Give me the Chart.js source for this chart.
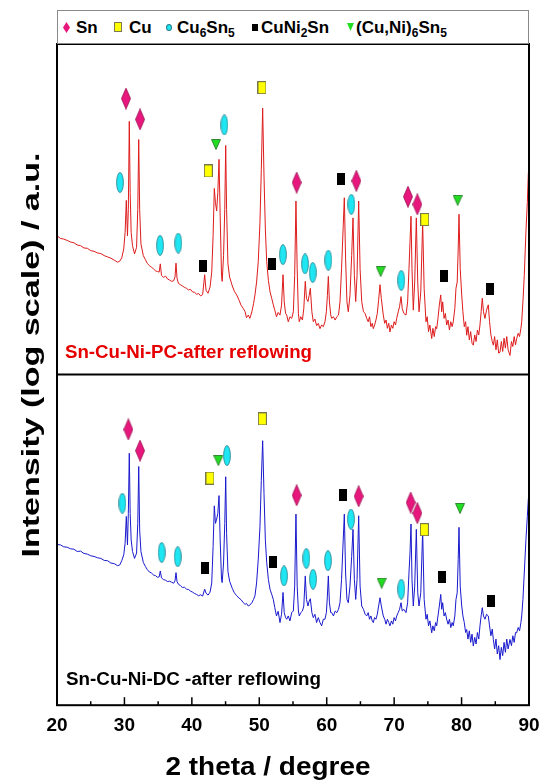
<!DOCTYPE html>
<html><head><meta charset="utf-8">
<script src="https://cdn.jsdelivr.net/npm/chart.js@4.4.1/dist/chart.umd.min.js"></script>
<style>
html,body{margin:0;padding:0;background:#fff;}
#wrap{position:relative;width:540px;height:780px;overflow:hidden;}
#c{position:absolute;left:0;top:0;}
#legend{position:absolute;left:57px;top:10px;width:472px;height:34px;border:1px solid #8a8a8a;box-sizing:border-box;font:bold 17px "Liberation Sans",Arial,sans-serif;color:#000;background:#fff;}
.it{position:absolute;top:0;line-height:33px;white-space:nowrap;}
.it sub{font-size:12px;vertical-align:-4px;line-height:0;}
.mk{position:absolute;box-sizing:border-box;}
</style></head>
<body>
<div id="wrap">
<canvas id="c" width="540" height="780"></canvas>
<div id="legend">
  <div class="mk" style="left:5px;top:11px;width:7px;height:11px;background:#e8177d;clip-path:polygon(50% 0,100% 50%,50% 100%,0 50%);"></div>
  <div class="it" style="left:18px;">Sn</div>
  <div class="mk" style="left:56px;top:11px;width:8px;height:10px;background:#ffff00;border:1px solid #7a7a50;"></div>
  <div class="it" style="left:71px;">Cu</div>
  <div class="mk" style="left:108px;top:13px;width:6px;height:7px;background:#1ee6f2;border:1px solid #2b7f8c;border-radius:50%;"></div>
  <div class="it" style="left:119px;">Cu<sub>6</sub>Sn<sub>5</sub></div>
  <div class="mk" style="left:194px;top:13px;width:6px;height:7px;background:#000;"></div>
  <div class="it" style="left:203px;">CuNi<sub>2</sub>Sn</div>
  <div class="mk" style="left:289px;top:12px;width:7px;height:8px;background:#22dd22;clip-path:polygon(0 0,100% 0,50% 100%);"></div>
  <div class="it" style="left:298px;">(Cu,Ni)<sub>6</sub>Sn<sub>5</sub></div>
</div>
</div>
<script>
// ---- DATA ----
const xTicks = [20, 30, 40, 50, 60, 70, 80, 90];
const twoTheta = [
20.0,20.5,21.0,21.5,22.0,22.5,23.0,23.5,24.0,24.5,25.0,25.5,26.0,26.5,27.0,27.5,28.0,28.5,29.0,29.3,29.6,29.9,
30.1,30.28,30.45,30.58,30.72,30.85,31.0,31.2,31.5,31.8,31.98,32.12,32.26,32.45,32.8,33.1,33.4,33.7,34.0,34.3,34.6,34.9,
35.15,35.32,35.5,35.8,36.1,36.4,36.7,37.0,37.3,37.5,37.65,37.8,38.0,38.3,38.6,38.9,39.2,39.5,39.8,40.1,40.4,40.7,41.0,41.3,41.6,
41.9,42.1,42.4,42.7,42.95,43.15,43.33,43.5,43.68,43.85,44.03,44.2,44.4,44.5,44.7,44.88,45.02,45.15,45.35,45.6,46.0,46.3,46.65,
47.0,47.3,47.63,47.9,48.1,48.37,48.6,48.9,49.15,49.36,49.6,49.85,50.1,50.3,50.5,50.7,50.9,51.1,51.35,51.6,51.85,52.08,52.3,52.55,
52.8,53.07,53.3,53.52,53.7,53.9,54.07,54.3,54.55,54.81,55.05,55.25,55.44,55.62,55.8,55.93,56.15,56.4,56.6,56.82,57.0,57.22,57.4,
57.57,57.8,58.01,58.25,58.5,58.75,59.0,59.25,59.5,59.74,59.95,60.1,60.24,60.4,60.6,60.74,61.0,61.25,61.5,61.75,61.97,62.2,62.45,
62.61,62.8,63.0,63.2,63.45,63.7,63.9,64.1,64.3,64.5,64.74,64.95,65.19,65.45,65.7,65.93,66.15,66.35,66.55,66.75,66.91,67.1,67.3,
67.5,67.7,67.9,68.1,68.39,68.6,68.8,69.0,69.2,69.38,69.6,69.8,70.0,70.2,70.38,70.6,70.8,71.02,71.2,71.45,71.76,72.0,72.2,72.35,
72.5,72.65,72.84,73.05,73.29,73.5,73.69,73.95,74.23,74.45,74.72,74.9,75.1,75.3,75.57,75.75,75.95,76.15,76.31,76.5,76.7,76.91,
77.05,77.2,77.4,77.6,77.79,78.0,78.2,78.4,78.6,78.77,79.0,79.17,79.35,79.5,79.62,79.8,80.02,80.2,80.4,80.6,80.76,80.95,81.15,
81.35,81.55,81.74,81.95,82.15,82.35,82.55,82.73,82.9,83.07,83.25,83.47,83.7,83.96,84.15,84.35,84.55,84.71,84.9,85.1,85.3,85.5,
85.7,85.9,86.1,86.3,86.5,86.7,86.9,87.18,87.4,87.6,87.8,88.0,88.17,88.4,88.6,88.8,88.92,89.1,89.3,89.55,89.75,89.9,90.0
];
// Sn-Cu-Ni-PC (top, red) — relative log intensity, 0..100 of panel height
const pcIntensity = [
42.0,41.2,41.0,40.6,40.1,39.9,39.2,39.0,38.3,38.2,37.5,37.3,36.8,36.6,36.0,35.6,35.2,34.6,34.0,34.3,35.3,38.0,
43.0,52.7,42.0,50.0,76.6,55.0,43.0,39.0,36.5,38.5,50.0,71.1,50.0,39.5,36.0,34.8,33.6,33.0,32.5,32.0,31.4,31.2,
31.0,33.5,30.0,29.4,29.8,28.9,28.6,28.2,28.4,29.5,33.7,29.2,27.6,27.2,26.8,26.4,26.1,25.6,25.8,25.0,24.9,24.3,24.5,23.8,24.2,
30.2,25.5,24.6,26.5,31.0,42.0,56.3,52.0,49.5,55.0,65.1,48.0,30.0,28.2,36.0,50.0,69.3,50.0,33.5,29.5,26.8,25.2,24.1,
22.5,21.0,20.0,19.0,17.2,18.0,17.0,19.0,21.5,24.1,28.0,34.2,46.0,62.0,80.6,60.0,44.0,34.2,28.5,25.0,23.0,21.1,19.5,17.5,
18.8,18.0,21.0,30.2,22.0,18.5,18.0,16.0,17.5,17.0,19.0,30.0,52.5,32.0,18.5,16.0,17.5,16.5,20.0,28.2,23.0,22.1,24.0,
26.1,19.0,16.0,16.8,14.8,15.5,13.9,15.0,14.5,16.0,19.0,24.0,29.7,22.0,18.0,17.0,17.5,16.5,17.5,18.0,22.0,32.0,45.0,
53.5,35.0,22.0,19.0,24.0,36.0,47.4,30.0,22.1,30.0,52.5,32.0,22.1,19.0,18.5,17.0,16.0,17.5,14.5,15.5,13.9,15.0,16.5,
18.5,22.5,27.2,23.0,18.0,15.5,16.5,14.0,15.5,12.9,15.0,14.0,16.0,15.0,17.0,19.0,20.5,23.6,20.0,18.5,18.0,22.0,32.0,40.0,
47.9,32.0,19.5,28.0,47.4,28.0,19.0,25.0,45.9,26.0,16.0,17.5,13.0,15.0,10.9,14.0,11.5,14.5,13.9,17.0,21.0,24.1,
19.0,22.0,17.0,18.5,15.0,16.5,13.5,16.0,14.5,16.0,20.0,26.1,28.0,38.0,48.5,32.0,24.1,19.0,14.5,16.0,11.9,14.5,10.5,
13.0,9.5,8.9,12.0,10.0,13.5,12.0,15.0,19.0,23.1,19.0,17.0,19.5,21.1,16.0,12.0,10.0,8.9,11.5,7.5,10.5,6.5,
6.8,10.0,7.0,11.0,8.0,11.5,7.5,5.8,10.0,8.5,11.5,9.0,10.9,12.5,11.5,14.0,16.0,22.0,30.0,43.4,52.0,60.6,64.0
];
// Sn-Cu-Ni-DC (bottom, blue)
const dcIntensity = [
48.6,48.5,47.9,47.8,47.3,47.2,46.5,46.6,45.9,45.7,45.2,45.0,44.6,44.4,43.8,43.7,43.0,42.8,42.2,42.4,43.7,45.5,
49.0,57.1,48.5,58.0,76.2,58.0,50.0,46.5,44.4,46.0,55.0,72.2,53.0,46.5,43.2,42.0,41.0,40.3,40.0,39.4,39.2,38.7,
38.8,40.6,38.5,38.0,37.8,37.4,37.5,37.2,36.9,37.6,40.1,37.4,36.6,36.2,35.6,35.7,35.1,35.0,34.5,34.2,33.8,33.5,33.1,33.4,33.0,
35.1,33.9,33.3,34.2,37.0,48.0,60.3,55.0,56.3,58.0,63.4,50.0,38.0,37.1,43.0,55.0,69.1,52.0,40.5,37.5,35.3,34.0,33.1,
32.4,31.9,31.0,30.5,30.8,30.0,30.3,31.0,32.0,33.1,37.0,44.2,54.0,68.0,80.0,64.0,50.0,43.2,38.0,35.0,33.5,32.0,29.5,27.0,
28.4,25.0,27.5,34.1,28.0,26.5,26.0,27.0,25.5,28.0,28.5,36.0,57.8,36.0,28.5,27.0,28.0,28.5,30.0,39.1,32.0,30.0,31.5,
32.2,28.0,26.5,27.5,25.0,26.5,25.0,24.0,26.0,26.0,28.0,33.0,39.1,31.0,28.0,28.0,27.0,28.5,28.0,29.0,31.0,38.0,50.0,
57.8,40.0,32.0,31.0,36.0,45.0,53.2,38.0,32.0,38.0,57.3,36.0,30.0,29.0,27.5,27.0,28.0,26.0,27.0,25.5,25.0,26.5,26.0,
27.5,30.0,32.5,30.0,27.0,26.0,24.5,26.0,25.0,24.0,25.5,24.5,26.5,25.5,27.0,28.0,29.0,31.0,28.5,29.0,28.0,31.0,40.0,46.0,
54.8,38.0,30.0,36.0,53.2,34.0,30.0,34.0,52.8,32.0,26.0,27.5,24.0,25.5,21.9,24.0,22.5,25.0,24.0,27.0,30.0,33.5,
29.0,31.0,27.0,28.0,26.0,24.5,26.0,23.5,25.0,24.0,27.0,32.0,34.0,44.0,53.8,36.0,30.0,27.0,25.0,22.0,22.9,20.0,22.5,
19.0,21.5,17.9,20.5,18.5,22.0,20.0,24.0,27.0,29.5,27.0,26.0,27.5,27.0,24.0,21.0,23.0,19.9,17.0,20.0,15.5,18.0,
13.8,17.5,15.0,19.0,16.0,20.0,17.0,19.9,18.0,21.0,19.0,22.0,21.9,23.5,22.5,25.0,27.0,32.0,40.0,50.2,57.0,62.3,64.0
];
// phase markers [2theta, level] — top panel (PC)
const snPC     = [[30.23,83.5],[32.31,77.2],[55.54,58.1],[64.39,58.6],[72.05,53.8],[73.44,51.5]];
const cuPC     = [[42.44,61.6],[50.40,86.8],[74.53,46.9]];
const cu6sn5PC = [[29.34,58.1],[35.28,39.1],[37.99,39.8],[44.82,75.5],[53.50,36.3],[56.78,33.5],[57.92,30.9],[60.24,34.6],[63.65,51.5],[71.06,28.5]];
const cuni2snPC= [[41.60,32.9],[51.84,33.4],[62.12,59.3],[77.35,29.7],[84.21,25.8]];
const cuni6sn5PC=[[43.58,69.6],[68.00,31.2],[79.42,52.7]];
// bottom panel (DC)
const snDC     = [[30.58,83.4],[32.31,77.0],[55.54,63.5],[64.74,63.2],[72.45,61.3],[73.44,58.1]];
const cuDC     = [[42.69,68.7],[50.45,86.6],[74.48,53.1]];
const cu6sn5DC = [[29.69,61.1],[35.52,46.2],[37.90,44.9],[45.21,75.5],[53.67,39.1],[56.98,44.4],[57.97,38.1],[60.19,43.7],[63.60,56.3],[71.06,35.1]];
const cuni2snDC= [[41.95,41.6],[52.08,43.2],[62.46,63.5],[77.14,38.9],[84.37,31.5]];
const cuni6sn5DC=[[43.93,74.0],[68.15,36.9],[79.77,59.5]];

const panelLabels = ['Sn-Cu-Ni-PC-after reflowing', 'Sn-Cu-Ni-DC -after reflowing'];
const xTitle = '2 theta / degree';
const yTitle = 'Intensity (log scale) / a.u.';

// ---- marker glyphs ----
function glyph(kind){
  const c = document.createElement('canvas');
  const g = c.getContext('2d');
  if (kind === 'diamond'){ c.width=10; c.height=22;
    g.beginPath(); g.moveTo(5,0.5); g.lineTo(9.5,11); g.lineTo(5,21.5); g.lineTo(0.5,11); g.closePath();
    g.fillStyle='#e8177d'; g.fill(); g.strokeStyle='#9a1050'; g.lineWidth=0.8; g.stroke();
  } else if (kind === 'rectY'){ c.width=9; c.height=13;
    g.fillStyle='#ffff00'; g.fillRect(0.5,0.5,8,12); g.strokeStyle='#77774a'; g.lineWidth=1; g.strokeRect(0.5,0.5,8,12);
  } else if (kind === 'ellipse'){ c.width=8; c.height=21;
    g.beginPath(); g.ellipse(4,10.5,3.4,10,0,0,Math.PI*2);
    g.fillStyle='#1ee6f2'; g.fill(); g.strokeStyle='#2b7f8c'; g.lineWidth=0.8; g.stroke();
  } else if (kind === 'black'){ c.width=8; c.height=12;
    g.fillStyle='#000'; g.fillRect(0,0,8,12);
  } else { c.width=10; c.height=11;
    g.beginPath(); g.moveTo(0.5,0.5); g.lineTo(9.5,0.5); g.lineTo(5,10.5); g.closePath();
    g.fillStyle='#22dd22'; g.fill(); g.strokeStyle='#1a6e1a'; g.lineWidth=0.8; g.stroke();
  }
  return c;
}
const G = {diamond:glyph('diamond'), rectY:glyph('rectY'), ellipse:glyph('ellipse'), black:glyph('black'), tri:glyph('tri')};

function pts(arr){ return arr.map(p => ({x:p[0], y:p[1]})); }
function trace(vals){ return twoTheta.map((t,i) => ({x:t, y:vals[i]})); }
function markDS(label, arr, axis, img){
  return {label, data:pts(arr), yAxisID:axis, showLine:false, pointStyle:img, pointRadius:5, pointHoverRadius:5, order:0};
}

const FONT = '"Liberation Sans", Arial, sans-serif';

function stretchText(ctx, text, x, y, targetW){
  const w = ctx.measureText(text).width;
  ctx.save(); ctx.translate(x, y); ctx.scale(targetW / w, 1); ctx.fillText(text, 0, 0); ctx.restore();
}

const framePlugin = {
  id:'frame',
  afterDraw(chart){
    const {ctx, chartArea:a, scales} = chart;
    const mid = scales.yTop.bottom;
    ctx.save();
    ctx.strokeStyle='#000'; ctx.lineWidth=2;
    ctx.strokeRect(a.left, a.top, a.right-a.left, a.bottom-a.top);
    ctx.beginPath(); ctx.moveTo(a.left, mid); ctx.lineTo(a.right, mid); ctx.stroke();
    // inward ticks on bottom axis
    ctx.lineWidth=1.5;
    const x = scales.x;
    for (let v = 20; v <= 90; v += 5){
      const px = x.getPixelForValue(v);
      const len = (v % 10 === 0) ? 8 : 4;
      ctx.beginPath(); ctx.moveTo(px, a.bottom); ctx.lineTo(px, a.bottom-len); ctx.stroke();
    }
    // panel labels
    ctx.font = 'bold 18px ' + FONT; ctx.textBaseline='middle'; ctx.textAlign='left';
    ctx.fillStyle='#e60000'; stretchText(ctx, panelLabels[0], a.left+8, mid-22, 247);
    ctx.fillStyle='#000'; stretchText(ctx, panelLabels[1], a.left+9, a.bottom-25, 255);
    // axis titles (stretched like the original)
    ctx.fillStyle='#000';
    ctx.font = 'bold 26px ' + FONT; ctx.textAlign='center';
    stretchText(ctx, xTitle, 268, 768, 205);
    ctx.font = 'bold 24px ' + FONT;
    ctx.save(); ctx.translate(32, 355); ctx.rotate(-Math.PI/2); stretchText(ctx, yTitle, 0, 0, 405); ctx.restore();
    ctx.restore();
  }
};

new Chart(document.getElementById('c'), {
  type:'line',
  data:{ datasets:[
    markDS('Sn', snPC, 'yTop', G.diamond),
    markDS('Cu', cuPC, 'yTop', G.rectY),
    markDS('Cu6Sn5', cu6sn5PC, 'yTop', G.ellipse),
    markDS('CuNi2Sn', cuni2snPC, 'yTop', G.black),
    markDS('(Cu,Ni)6Sn5', cuni6sn5PC, 'yTop', G.tri),
    markDS('Sn DC', snDC, 'yBot', G.diamond),
    markDS('Cu DC', cuDC, 'yBot', G.rectY),
    markDS('Cu6Sn5 DC', cu6sn5DC, 'yBot', G.ellipse),
    markDS('CuNi2Sn DC', cuni2snDC, 'yBot', G.black),
    markDS('(Cu,Ni)6Sn5 DC', cuni6sn5DC, 'yBot', G.tri),
    {label:panelLabels[0], data:trace(pcIntensity), yAxisID:'yTop', borderColor:'rgb(222,28,28)', borderWidth:1, pointRadius:0, tension:0, order:1},
    {label:panelLabels[1], data:trace(dcIntensity), yAxisID:'yBot', borderColor:'rgb(25,25,205)', borderWidth:1, pointRadius:0, tension:0, order:1}
  ]},
  options:{
    responsive:false, animation:false, devicePixelRatio:1,
    layout:{padding:{left:57, right:11, top:44, bottom:34}},
    plugins:{legend:{display:false}, tooltip:{enabled:false}},
    events:[],
    scales:{
      x:{type:'linear', min:20, max:90, afterBuildTicks(s){ s.ticks = xTicks.map(v => ({value:v})); },
         afterFit(s){ s.paddingLeft = 0; s.paddingRight = 0; },
         grid:{display:false, drawTicks:false}, border:{display:false},
         ticks:{font:{family:FONT, size:19, weight:'bold'}, color:'#000', padding:9, maxRotation:0, autoSkip:false}},
      yBot:{type:'linear', position:'left', stack:'panels', stackWeight:1, min:0, max:100, display:false},
      yTop:{type:'linear', position:'left', stack:'panels', stackWeight:1, min:0, max:100, display:false}
    }
  },
  plugins:[framePlugin]
});
</script>
</body></html>
